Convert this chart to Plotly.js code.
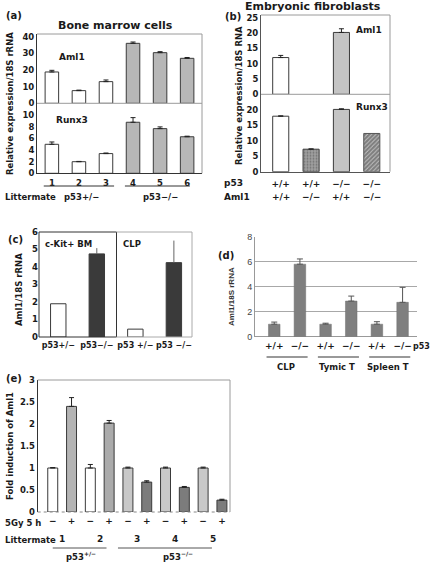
<!DOCTYPE html>
<html><head><meta charset="utf-8">
<script src="https://cdn.plot.ly/plotly-3.0.1.min.js"></script>
<style>html,body{margin:0;padding:0;background:#fff}#chart{width:432px;height:563px}</style>
</head><body><div id="chart"></div>
<script>
// ---------------- data ----------------
const aLitter = ['1','2','3','4','5','6'];
const aGroups = ['p53+/−','p53−/−'];
const aAml1 = [18.8, 7.6, 13, 36, 30.4, 27];
const aAml1Err = [1, 0.3, 1, 0.8, 0.6, 0.5];
const aRunx3 = [5.0, 2.0, 3.4, 8.8, 7.7, 6.3];
const aRunx3Err = [0.4, 0.05, 0.1, 0.8, 0.3, 0.1];

const bP53 = ['+/+','+/+','−/−','−/−'];
const bAml1Geno = ['+/+','−/−','+/+','−/−'];
const bAml1 = [12, null, 20.2, null];
const bAml1Err = [0.7, 0, 1.2, 0];
const bRunx3 = [18, 7.3, 20.2, 12.4];
const bRunx3Err = [0.1, 0.1, 0.2, 0];

const cLabels = ['p53+/−','p53−/−','p53 +/−','p53 −/−'];
const cPanels = ['c-Kit+ BM','CLP'];
const cValues = [1.9, 4.75, 0.45, 4.25];
const cErr = [0, 0.33, 0, 1.26];

const dGeno = ['+/+','−/−','+/+','−/−','+/+','−/−'];
const dTissues = ['CLP','Tymic T','Spleen T'];
const dValues = [1.0, 5.8, 1.0, 2.85, 1.0, 2.75];
const dErr = [0.17, 0.42, 0.08, 0.4, 0.2, 1.2];

const eIrr = ['−','+','−','+','−','+','−','+','−','+'];
const eLitter = ['1','2','3','4','5'];
const eGroups = ['p53<sup>+/−</sup>','p53<sup>−/−</sup>'];
const eValues = [1.0, 2.4, 1.0, 2.02, 1.0, 0.68, 1.0, 0.56, 1.0, 0.27];
const eErr = [0.01, 0.2, 0.08, 0.06, 0.02, 0.03, 0.02, 0.02, 0.02, 0.02];

// ---------------- helpers ----------------
const W = 432, H = 563;
const X = p => p / W, Y = p => 1 - p / H;
const domX = (a, b) => [X(a), X(b)];
const domY = (top, bot) => [Y(bot), Y(top)];
const idx = arr => arr.map((_, i) => i);
const zeros = arr => arr.map(() => 0);
const FONT = 'DejaVu Sans';
const bold = (size, color, fam) => ({family: fam || FONT, size: size, color: color || '#1a1a1a', weight: 'bold'});

function errBar(arr, w) {
  return {type: 'data', symmetric: false, array: arr, arrayminus: zeros(arr),
          color: '#222', thickness: 1, width: w === undefined ? 2.5 : w};
}
function bar(xa, ya, vals, err, colors, width, extra) {
  return Object.assign({
    type: 'bar', x: idx(vals), y: vals, xaxis: xa, yaxis: ya, width: width,
    marker: {color: colors, line: {color: '#3a3a3a', width: 1}},
    error_y: errBar(err), hoverinfo: 'skip', showlegend: false
  }, extra || {});
}

// ---------------- traces ----------------
const aCol = aLitter.map((_, i) => i < 3 ? '#ffffff' : '#b7b7b7');
const eCol = ['#ffffff','#b4b4b4','#ffffff','#ababab','#c8c8c8','#7c7c7c','#c8c8c8','#7c7c7c','#c8c8c8','#7c7c7c'];
const isDouble = i => bP53[i] === '−/−' && bAml1Geno[i] === '−/−';
const bRunx3Plain = bRunx3.map((v, i) => isDouble(i) ? null : v);
const bRunx3Hatch = bRunx3.map((v, i) => isDouble(i) ? v : null);

const tA1 = bar('x', 'y', aAml1, aAml1Err, aCol, 0.5);
const tA2 = bar('x2', 'y2', aRunx3, aRunx3Err, aCol, 0.5);
const tB1 = bar('x3', 'y3', bAml1, bAml1Err, ['#ffffff','#9d9d9d','#c4c4c4','#ffffff'], 0.53);
const tB2 = bar('x4', 'y4', bRunx3Plain, bRunx3Err, ['#ffffff','#a0a0a0','#c4c4c4','#ffffff'], 0.53);
tB2.marker.pattern = {shape: ['', '.', '', ''], fgcolor: '#7a7a7a', size: 3, solidity: 0.3, fillmode: 'overlay'};
const tB3 = bar('x4', 'y4', bRunx3Hatch, zeros(bRunx3Hatch), '#ffffff', 0.53);
tB3.marker.pattern = {shape: '/', fgcolor: '#000000', bgcolor: '#ffffff', size: 3, solidity: 0.85, fillmode: 'overlay'};
tB3.marker.line = {color: '#555', width: 1};
tB3.error_y.visible = false;
const tC = bar('x5', 'y5', cValues, cErr, ['#ffffff','#3a3a3a','#ffffff','#3a3a3a'], 0.4);
tC.error_y.color = '#666'; tC.error_y.width = 0;
const tD = bar('x6', 'y6', dValues, dErr, '#7f7f7f', 0.45);
tD.marker.line = {color: '#6f6f6f', width: 0.5};
tD.error_y.color = '#555'; tD.error_y.width = 3;
const tE = bar('x7', 'y7', eValues, eErr, eCol, 0.53);
const traces = [tA1, tA2, tB1, tB2, tB3, tC, tD, tE];

// ---------------- axes ----------------
function xax(dom, range, tickvals, ticktext, font, opts) {
  return Object.assign({domain: dom, range: range, tickvals: tickvals, ticktext: ticktext, tickangle: 0,
    showgrid: false, zeroline: false, showline: false, ticks: '', tickfont: font, fixedrange: true}, opts || {});
}
function yax(dom, range, tickvals, font, opts) {
  return Object.assign({domain: dom, range: range, tickvals: tickvals, showgrid: false, zeroline: false,
    showline: true, linecolor: '#333', linewidth: 1, ticks: '', tickfont: font, fixedrange: true}, opts || {});
}
const tf = bold(8.5);
const layout = {
  width: W, height: H, margin: {l: 0, r: 0, t: 0, b: 0},
  paper_bgcolor: '#ffffff', plot_bgcolor: 'rgba(0,0,0,0)',
  font: {family: FONT, size: 9, color: '#1a1a1a', weight: 'bold'},
  bargap: 0, barmode: 'overlay', showlegend: false,
  // (a)
  xaxis: xax(domX(37, 202), [-0.55, 5.55], [], [], tf, {anchor: 'y', showticklabels: false}),
  yaxis: yax(domY(34, 103.3), [0, 41.6], [0, 10, 20, 30, 40], tf, {anchor: 'x'}),
  xaxis2: xax(domX(37, 202), [-0.55, 5.55], idx(aLitter), aLitter, tf,
              {anchor: 'y2', showline: true, linecolor: '#333', ticklabelstandoff: 1}),
  yaxis2: yax(domY(103.3, 173.3), [0, 12.07], [0, 2, 4, 6, 8, 10], tf, {anchor: 'x2'}),
  // (b)
  xaxis3: xax(domX(261, 390), [-0.65, 3.6], [], [], tf, {anchor: 'y3', showticklabels: false}),
  yaxis3: yax(domY(15, 94.3), [0, 25.9], [0, 5, 10, 15, 20, 25], tf, {anchor: 'x3', linecolor: '#555'}),
  xaxis4: xax(domX(261, 390), [-0.65, 3.6], idx(bP53), bP53, bold(9), {anchor: 'y4', showline: true, linecolor: '#555', ticklabelstandoff: 3}),
  yaxis4: yax(domY(94.3, 171.7), [0, 25.1], [0, 5, 10, 15, 20], tf, {anchor: 'x4', linecolor: '#555'}),
  // (c)
  xaxis5: xax(domX(39, 192), [-0.5, 3.47], idx(cLabels), cLabels, bold(8), {anchor: 'y5', ticklabelstandoff: 2}),
  yaxis5: yax(domY(232, 337), [0, 6], [0, 1, 2, 3, 4, 5, 6], tf, {anchor: 'x5', showline: false}),
  // (d)
  xaxis6: xax(domX(255, 416.7), [-0.75, 5.55], idx(dGeno), dGeno, bold(9), {anchor: 'y6', ticklabelstandoff: 2}),
  yaxis6: yax(domY(236.7, 336.7), [0, 8], [0, 2, 4, 6, 8],
              {family: 'Liberation Sans', size: 9, color: '#444', weight: 'normal'},
              {anchor: 'x6', showgrid: true, gridcolor: '#a8a8a8', gridwidth: 1, linecolor: '#999',
               zeroline: true, zerolinecolor: '#999', zerolinewidth: 1}),
  // (e)
  xaxis7: xax(domX(37.7, 230), [-0.8, 9.43], idx(eIrr), eIrr, bold(9), {anchor: 'y7', ticklabelstandoff: 2}),
  yaxis7: yax(domY(380, 512), [0, 3], [0, 0.5, 1, 1.5, 2, 2.5, 3], tf,
              {anchor: 'x7', ticktext: ['0','0.5','1','1.5','2','2.5','3']}),
  shapes: [],
  annotations: []
};

// ---------------- decorations ----------------
const S = layout.shapes, A = layout.annotations;
function line(x0, y0, x1, y1, color, width, dash) {
  S.push({type: 'line', xref: 'paper', yref: 'paper', x0: X(x0), y0: Y(y0), x1: X(x1), y1: Y(y1),
          line: {color: color, width: width || 1, dash: dash || 'solid'}});
}
function txt(text, x, y, font, opts) {
  A.push(Object.assign({text: text, xref: 'paper', yref: 'paper', x: X(x), y: Y(y),
    xanchor: 'center', yanchor: 'middle', showarrow: false, font: font || bold(9)}, opts || {}));
}
function txtAx(text, xa, xv, y, font) {
  A.push({text: text, xref: xa, yref: 'paper', x: xv, y: Y(y), xanchor: 'center', yanchor: 'middle',
          showarrow: false, font: font || bold(9)});
}
function lineAx(xa, x0, x1, y, color, width) {
  S.push({type: 'line', xref: xa, yref: 'paper', x0: x0, x1: x1, y0: Y(y), y1: Y(y),
          line: {color: color, width: width || 1}});
}

// panel (a)
txt('(a)', 14, 15, bold(10));
txt('Bone marrow cells', 115, 25, bold(11));
line(37, 34, 202, 34, '#9a9a9a'); line(202, 34, 202, 173.3, '#9a9a9a'); line(37, 103.3, 202, 103.3, '#9a9a9a');
txt('Aml1', 72, 57, bold(9));
txt('Runx3', 72, 120, bold(9));
txt('Relative expression/18S rRNA', 10, 104, bold(8.5), {textangle: -90});
lineAx('x2', -0.3, 2.3, 186, '#333', 1);
lineAx('x2', 2.7, 5.1, 186, '#333', 1);
txtAx(aGroups[0], 'x2', 1.1, 197, bold(8.5));
txtAx(aGroups[1], 'x2', 4.0, 197, bold(8.5));
txt('Littermate', 3, 197, bold(8.5), {xanchor: 'left'});

// panel (b)
txt('Embryonic fibroblasts', 313, 6, bold(11));
txt('(b)', 233, 17, bold(10));
line(261, 15, 390, 15, '#9a9a9a'); line(390, 15, 390, 171.7, '#9a9a9a'); line(261, 94.3, 390, 94.3, '#9a9a9a');
txt('Aml1', 369, 30, bold(9));
txt('Runx3', 372, 107, bold(9));
txt('Relative expression/18S RNA', 239, 95, bold(8.5), {textangle: -90});
txt('p53', 222, 183, bold(9), {xanchor: 'left'});
txt('Aml1', 222, 197, bold(9), {xanchor: 'left'});
bAml1Geno.forEach((g, i) => txtAx(g, 'x4', i, 197, bold(9)));

// panel (c)
txt('(c)', 15, 240, bold(10));
S.push({type: 'rect', xref: 'paper', yref: 'paper', x0: X(39), x1: X(116.5), y0: Y(337), y1: Y(232),
        line: {color: '#333', width: 1}});
line(116.5, 232, 192, 232, '#aaaaaa'); line(192, 232, 192, 337, '#aaaaaa'); line(116.5, 337, 192, 337, '#aaaaaa');
txt(cPanels[0], 68, 244, bold(8.5));
txt(cPanels[1], 132, 244, bold(8.5));
txt('Aml1/18S rRNA', 19, 290, bold(8.5), {textangle: -90});

// panel (d)
txt('(d)', 226, 255, bold(10));
txt('Aml1/18S rRNA', 231, 297, bold(8, '#333', 'Liberation Sans'), {textangle: -90});
txt('p53', 432, 346, bold(8), {xanchor: 'right'});
dTissues.forEach((t, g) => {
  lineAx('x6', 2 * g - 0.3, 2 * g + 1.3, 357, '#777', 1.5);
  txtAx(t, 'x6', 2 * g + 0.45, 366.5, bold(8.5));
});

// panel (e)
txt('(e)', 14, 378, bold(10));
line(37.7, 380, 230, 380, '#9a9a9a'); line(230, 380, 230, 512, '#9a9a9a');
line(37.7, 512, 230, 512, '#888', 1, 'dot');
txt('Fold induction of Aml1', 10, 446, bold(8.5), {textangle: -90});
txt('5Gy 5 h', 3, 523, bold(8.5), {xanchor: 'left'});
txt('Littermate', 3, 540, bold(8.5), {xanchor: 'left'});
eLitter.forEach((l, k) => txtAx(l, 'x7', 2 * k + 0.5, 539, bold(9)));
lineAx('x7', 0.0, 2.86, 548, '#555', 1);
lineAx('x7', 3.47, 8.47, 548, '#555', 1);
txtAx(eGroups[0], 'x7', 1.5, 556, bold(8.5));
txtAx(eGroups[1], 'x7', 6.66, 556, bold(8.5));

Plotly.newPlot('chart', traces, layout, {staticPlot: true, displayModeBar: false});
</script>
</body></html>
